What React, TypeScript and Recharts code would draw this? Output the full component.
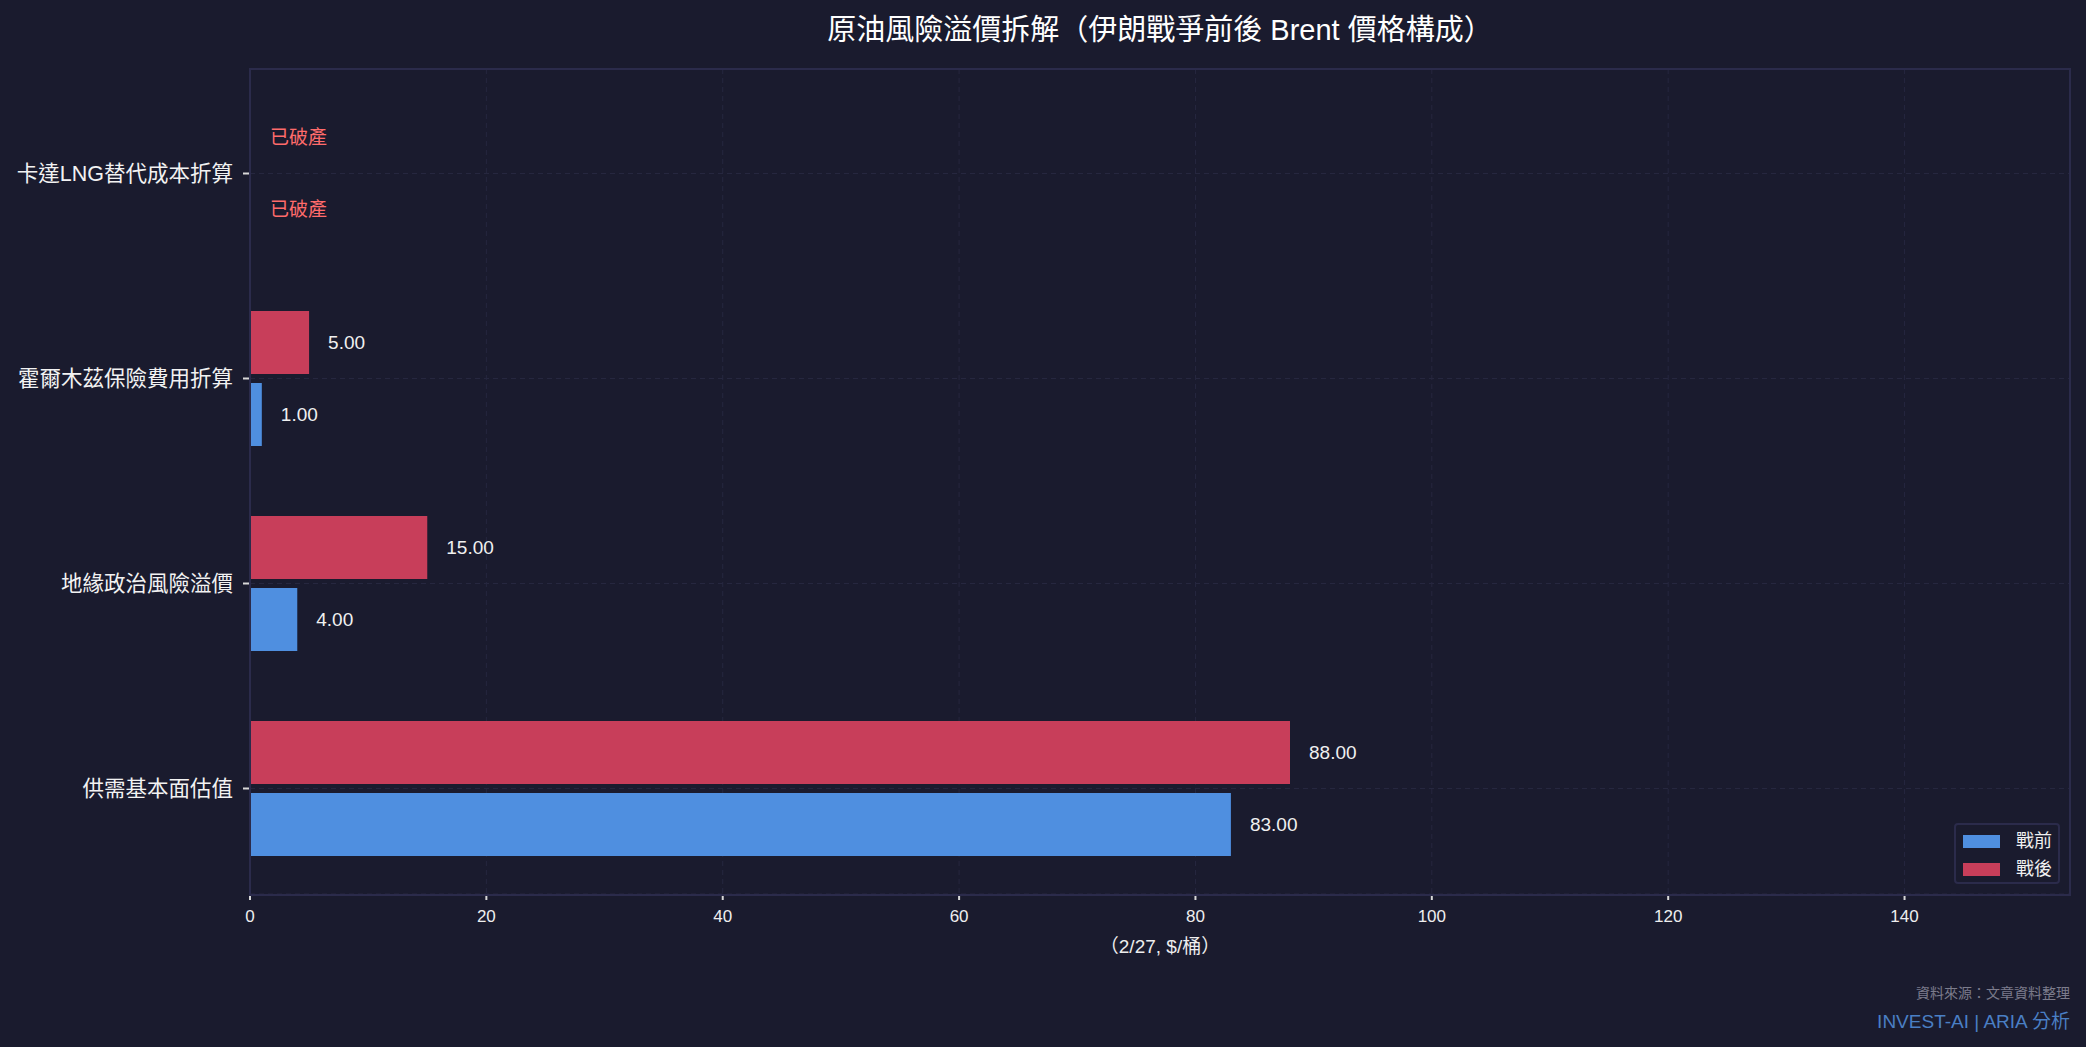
import React from 'react';
import { BarChart, Bar, XAxis, YAxis, CartesianGrid, LabelList, Label, ReferenceDot } from 'recharts';

const categories = ['卡達LNG替代成本折算', '霍爾木茲保險費用折算', '地緣政治風險溢價', '供需基本面估值'];
const preWar: (number | null)[] = [null, 1, 4, 83];
const postWar: (number | null)[] = [null, 5, 15, 88];
const statusNotes = ['已破產', '', '', ''];
const xTicks = [0, 20, 40, 60, 80, 100, 120, 140];
const xMax = 154;
const preName = '戰前';
const postName = '戰後';
const titleText = '原油風險溢價拆解（伊朗戰爭前後 Brent 價格構成）';
const xLabelText = '（2/27, $/桶）';
const sourceText = '資料來源：文章資料整理';
const brandText = 'INVEST-AI | ARIA 分析';

const data = categories.map((name, i) => ({ name, pre: preWar[i], post: postWar[i], note: statusNotes[i] }));

const BG = '#1a1b2e';
const FRAME = '#2b2b4b';
const GRID = '#26273f';
const BLUE = '#4f8fe0';
const RED = '#c83e5a';
const FONT = '"Liberation Sans", Arial, "Noto Sans CJK TC", sans-serif';
const BAR_SIZE = 63;
const BAR_GAP = 9;

const makeLabel = (props: any) => {
  const vb = props.viewBox || {};
  const x = Number(props.x ?? vb.x);
  const y = Number(props.y ?? vb.y);
  const w = Number(props.width ?? vb.width ?? 0) || 0;
  const h = Number(props.height ?? vb.height ?? 0) || 0;
  const v = props.value;
  if (v == null || Number.isNaN(Number(v))) return null;
  return (
    <text x={x + w + 19} y={y + h / 2} dy="0.35em" fill="#f0f0f0" fontSize={19} fontFamily={FONT}>
      {Number(v).toFixed(2)}
    </text>
  );
};

const makeNote = (note: string) => (props: any) => {
  const vb = props.viewBox || {};
  const cx = Number(vb.x) + Number(vb.width || 0) / 2;
  const cy = Number(vb.y) + Number(vb.height || 0) / 2;
  const off = (BAR_SIZE + BAR_GAP) / 2;
  return (
    <g>
      {[-off, off].map((d) => (
        <text key={d} x={cx + 20} y={cy + d} dy="0.35em" fill="#ff6b6b" fontSize={19} fontFamily={FONT}>
          {note}
        </text>
      ))}
    </g>
  );
};

export default function App() {
  return (
    <div style={{ position: 'absolute', left: 0, top: 0, width: 2086, height: 1047, background: BG, fontFamily: FONT, overflow: 'hidden' }}>
      <div style={{ position: 'absolute', left: 250, width: 1820, top: 13, textAlign: 'center', color: '#ffffff', fontSize: 29, lineHeight: '34px' }}>
        {titleText}
      </div>
      <BarChart
        width={2086}
        height={1047}
        data={data}
        layout="vertical"
        margin={{ top: 69, right: 16, bottom: 89, left: 0 }}
        barGap={BAR_GAP}
        barSize={BAR_SIZE}
        style={{ position: 'absolute', left: 0, top: 0 }}
      >
        <CartesianGrid stroke={GRID} strokeDasharray="5 4" strokeWidth={1} />
        <XAxis
          type="number"
          domain={[0, xMax]}
          ticks={xTicks}
          allowDataOverflow
          axisLine={false}
          tickSize={6}
          tickMargin={10}
          tickLine={{ stroke: '#d8d8d8', strokeWidth: 2 }}
          tick={{ fill: '#eeeeee', fontSize: 17, fontFamily: FONT }}
          height={64}
        >
          <Label value={xLabelText} position="insideBottom" offset={5} fill="#eeeeee" fontSize={19} fontFamily={FONT} />
        </XAxis>
        <YAxis
          type="category"
          dataKey="name"
          width={250}
          axisLine={false}
          padding={{ top: 2, bottom: 3 }}
          tickSize={7}
          tickMargin={10}
          tickLine={{ stroke: '#d8d8d8', strokeWidth: 2 }}
          tick={{ fill: '#f2f2f2', fontSize: 21.5, fontFamily: FONT }}
        />
        <Bar dataKey="post" name={postName} fill={RED} isAnimationActive={false}>
          <LabelList dataKey="post" content={makeLabel} />
        </Bar>
        <Bar dataKey="pre" name={preName} fill={BLUE} isAnimationActive={false}>
          <LabelList dataKey="pre" content={makeLabel} />
        </Bar>
        {data
          .filter((d) => d.note && d.pre == null && d.post == null)
          .map((d) => (
            <ReferenceDot key={d.name} x={0} y={d.name} r={0} fill="none" stroke="none" ifOverflow="visible" label={makeNote(d.note)} />
          ))}
      </BarChart>
      <div
        style={{
          position: 'absolute',
          left: 249,
          top: 68,
          width: 1822,
          height: 828,
          boxSizing: 'border-box',
          border: `2px solid ${FRAME}`,
          pointerEvents: 'none',
        }}
      />
      <div style={{ position: 'absolute', left: 1954, top: 823, width: 102, height: 57, border: `2px solid ${FRAME}`, borderRadius: 4, background: BG }}>
        {[{ n: preName, c: BLUE }, { n: postName, c: RED }].map((it, i) => (
          <div key={it.n} style={{ position: 'absolute', left: 7, top: 7 + i * 28, height: 18, display: 'flex', alignItems: 'center' }}>
            <div style={{ width: 37, height: 13, background: it.c }} />
            <div style={{ marginLeft: 16, color: '#f0f0f0', fontSize: 18, lineHeight: '18px' }}>{it.n}</div>
          </div>
        ))}
      </div>
      <div style={{ position: 'absolute', right: 16, top: 984, color: '#7c7c8c', fontSize: 14, lineHeight: '18px', textAlign: 'right' }}>
        {sourceText}
      </div>
      <div style={{ position: 'absolute', right: 16, top: 1010, color: '#4a7fc4', fontSize: 19, lineHeight: '24px', textAlign: 'right' }}>
        {brandText}
      </div>
    </div>
  );
}
